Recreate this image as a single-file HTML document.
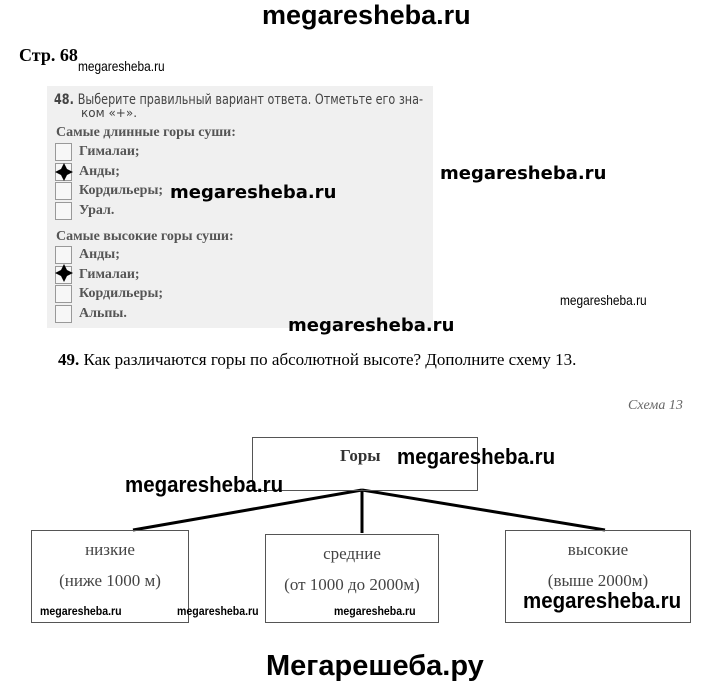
<!DOCTYPE html>
<html><head><meta charset="utf-8"><style>
body{margin:0;width:720px;height:684px;background:#fff;position:relative;overflow:hidden;font-family:"Liberation Serif","DejaVu Serif",serif;}
.a{position:absolute;white-space:nowrap;line-height:1;}
.wm{font-family:"Liberation Sans",sans-serif;font-weight:bold;color:#000;transform-origin:0 0;}
.wmb{font-family:"DejaVu Sans","Liberation Sans",sans-serif;font-weight:bold;color:#000;}
.scan{position:absolute;left:47px;top:86px;width:386px;height:242px;background:#f0f0f0;}
.cb{position:absolute;width:15px;height:16px;border:1px solid #999;background:#f7f7f7;}
.it{position:absolute;font-size:14px;font-weight:bold;color:#555;line-height:1;}
.box{position:absolute;border:1px solid #555;box-sizing:border-box;}
.bt{position:absolute;font-size:17px;color:#444;text-align:center;width:100%;line-height:1;}
</style></head><body>
<div class="a wm" style="left:262px;top:2px;font-size:27px;">megaresheba.ru</div>
<div class="a" style="left:19px;top:46px;font-size:18px;font-weight:bold;">Стр. 68</div>
<div class="a wm" style="left:78px;top:59px;font-size:14px;font-weight:normal;transform:scaleX(0.85);">megaresheba.ru</div>

<div class="scan">
<div class="a" style="left:7px;top:7px;font-size:14px;font-weight:bold;color:#444;font-family:'DejaVu Sans','Liberation Sans',sans-serif;transform:scaleX(0.8);transform-origin:0 0;">48. <span style="font-weight:normal">Выберите правильный вариант ответа. Отметьте его зна-</span></div>
<div class="a" style="left:34px;top:21px;font-size:12px;color:#444;font-family:'DejaVu Sans','Liberation Sans',sans-serif;">ком «+».</div>
<div class="it" style="left:9px;top:40px;">Самые длинные горы суши:</div>
<div class="cb" style="left:8px;top:57px"></div><div class="it" style="left:32px;top:59px">Гималаи;</div>
<div class="cb" style="left:8px;top:77px"></div><div class="it" style="left:32px;top:79px">Анды;</div>
<div class="cb" style="left:8px;top:96px"></div><div class="it" style="left:32px;top:98px">Кордильеры;</div>
<div class="cb" style="left:8px;top:116px"></div><div class="it" style="left:32px;top:118px">Урал.</div>
<div class="it" style="left:9px;top:144px;">Самые высокие горы суши:</div>
<div class="cb" style="left:8px;top:160px"></div><div class="it" style="left:32px;top:162px">Анды;</div>
<div class="cb" style="left:8px;top:180px"></div><div class="it" style="left:32px;top:182px">Гималаи;</div>
<div class="cb" style="left:8px;top:199px"></div><div class="it" style="left:32px;top:201px">Кордильеры;</div>
<div class="cb" style="left:8px;top:219px"></div><div class="it" style="left:32px;top:221px">Альпы.</div>
</div>
<svg style="position:absolute;left:0;top:0" width="720" height="684">
<path d="M64 163 L67 169 L73 172 L67 175 L64 181 L61 175 L55 172 L61 169Z" fill="#000"/>
<path d="M64 264 L67 270 L73 273 L67 276 L64 282 L61 276 L55 273 L61 270Z" fill="#000"/>
<g stroke="#000" stroke-width="3"><line x1="362" y1="490" x2="133" y2="530"/><line x1="362" y1="490" x2="362" y2="533"/><line x1="362" y1="490" x2="605" y2="530"/></g>
</svg>
<div class="a wmb" style="left:170px;top:184px;font-size:18px;">megaresheba.ru</div>
<div class="a wmb" style="left:440px;top:165px;font-size:18px;">megaresheba.ru</div>
<div class="a wm" style="left:560px;top:293px;font-size:14px;font-weight:normal;transform:scaleX(0.85);">megaresheba.ru</div>
<div class="a wmb" style="left:288px;top:317px;font-size:18px;">megaresheba.ru</div>
<div class="a" style="left:58px;top:351px;font-size:17px;"><b>49.</b> Как различаются горы по абсолютной высоте? Дополните схему 13.</div>
<div class="a" style="left:628px;top:399px;font-size:14px;font-style:italic;color:#666;">Схема 13</div>

<div class="box" style="left:252px;top:437px;width:226px;height:54px;"></div>
<div class="a" style="left:340px;top:447px;font-size:17px;font-weight:bold;color:#333;">Горы</div>
<div class="a wm" style="left:397px;top:446px;font-size:22px;transform:scaleX(0.93);">megaresheba.ru</div>
<div class="a wm" style="left:125px;top:474px;font-size:22px;transform:scaleX(0.93);">megaresheba.ru</div>

<div class="box" style="left:31px;top:530px;width:158px;height:93px;"><div class="bt" style="top:10px">низкие</div><div class="bt" style="top:41px">(ниже 1000 м)</div></div>
<div class="box" style="left:265px;top:534px;width:174px;height:89px;"><div class="bt" style="top:10px">средние</div><div class="bt" style="top:41px">(от 1000 до 2000м)</div></div>
<div class="box" style="left:505px;top:530px;width:186px;height:93px;"><div class="bt" style="top:10px">высокие</div><div class="bt" style="top:41px">(выше 2000м)</div></div>
<div class="a wm" style="left:40px;top:605px;font-size:12px;transform:scaleX(0.88);">megaresheba.ru</div>
<div class="a wm" style="left:177px;top:605px;font-size:12px;transform:scaleX(0.88);">megaresheba.ru</div>
<div class="a wm" style="left:334px;top:605px;font-size:12px;transform:scaleX(0.88);">megaresheba.ru</div>
<div class="a wm" style="left:523px;top:590px;font-size:22px;transform:scaleX(0.93);">megaresheba.ru</div>
<div class="a wm" style="left:266px;top:652px;font-size:29px;">Мегарешеба.ру</div>
</body></html>
